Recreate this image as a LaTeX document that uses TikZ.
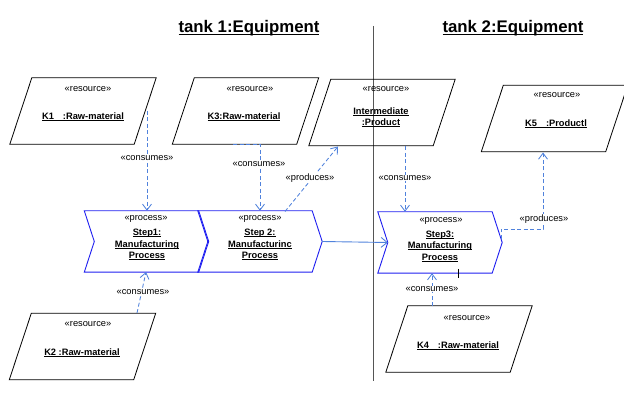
\documentclass[tikz,border=0pt]{standalone}
\usepackage{fontspec}
\setmainfont{Liberation Sans}
\usetikzlibrary{arrows.meta,calc}

\definecolor{procblue}{RGB}{30,30,240}
\definecolor{linkblue}{RGB}{80,130,220}
\definecolor{divgray}{RGB}{85,85,85}

% underlined text with a fixed rule just below the baseline
\newcommand\ulx[1]{\setbox0\hbox{#1}\rlap{\rule[-1.4pt]{\wd0}{0.7pt}}\box0}
\newcommand\ulbig[1]{\setbox0\hbox{#1}\rlap{\rule[-2.6pt]{\wd0}{1.1pt}}\box0}

% parallelogram outline of a resource box (invisible rectangle node #1)
\newcommand\resoutline[1]{%
  \draw[resline] (#1.south west) -- ([xshift=22pt]#1.north west) --
    (#1.north east) -- ([xshift=-22pt]#1.south east) -- cycle;}
% chevron outline of a process box (invisible rectangle node #1)
\newcommand\procoutline[1]{%
  \draw[procline] (#1.north west) -- (#1.north east) -- ([xshift=10pt]#1.east) --
    (#1.south east) -- (#1.south west) -- ([xshift=10pt]#1.west) -- cycle;}

\tikzset{
  smallfont/.style={font=\fontsize{9.3}{11.5}\selectfont},
  resbox/.style={minimum width=146pt, minimum height=66pt, inner sep=0pt},
  procbox/.style={minimum width=114pt, minimum height=61pt, inner sep=0pt},
  resline/.style={draw=black, line width=0.8pt},
  procline/.style={draw=procblue, line width=0.9pt},
  stereo/.style={smallfont, inner sep=0pt},
  objname/.style={font=\fontsize{9.3}{11.5}\selectfont\bfseries, inner sep=0pt, align=center},
  titletext/.style={font=\fontsize{16.8}{20}\selectfont\bfseries, inner sep=0pt},
  dep/.style={draw=linkblue, line width=0.85pt, dash pattern=on 4pt off 2.5pt,
    -{Straight Barb[length=6pt,width=9pt,line width=0.85pt]}},
  flow/.style={draw=linkblue, line width=0.9pt,
    -{Straight Barb[length=6pt,width=10pt,line width=0.9pt]}},
  deplabel/.style={smallfont, fill=white, inner sep=0.8pt},
  divider/.style={draw=divgray, line width=0.9pt},
}

\begin{document}
\begin{tikzpicture}[x=1pt,y=-1pt]
\useasboundingbox (0,0) rectangle (624,398);

% lane divider and lane titles
\coordinate (divtop) at (373,26);
\coordinate (divbot) at (373,381);
\draw[divider] (divtop) -- (divbot);
\node[titletext] (tank1) at (249,28) {\ulbig{tank 1:Equipment}};
\node[titletext] (tank2) at (513,28) {\ulbig{tank 2:Equipment}};

% resources
\node[resbox] (k1) at (83,111) {};
\node[resbox] (k3) at (245.5,111) {};
\node[resbox] (im) at (382,112.5) {};
\node[resbox] (k5) at (554.5,118.5) {};
\node[resbox] (k2) at (82.5,346.5) {};
\node[resbox] (k4) at (459,339) {};
\begin{scope}
  \clip (0,0) rectangle (624,398);
  \foreach \n in {k1,k3,im,k5,k2,k4} {\resoutline{\n}}
\end{scope}

\node[stereo] (k1s) at (88,89) {«resource»};
\node[objname] (k1n) at (83,117) {\ulx{K1\hspace{9pt}:Raw-material}};
\node[stereo] (k3s) at (250,89) {«resource»};
\node[objname] (k3n) at (244,117) {\ulx{K3:Raw-material}};
\node[stereo] (ims) at (386,89) {«resource»};
\node[objname, font=\fontsize{9.3}{11}\selectfont\bfseries] (imn) at (381,117.5)
  {\ulx{Intermediate}\\\ulx{:Product}};
\node[stereo] (k5s) at (557,95) {«resource»};
\node[objname] (k5n) at (556,124) {\ulx{K5\hspace{9pt}:Productl}};
\node[stereo] (k2s) at (88,324) {«resource»};
\node[objname] (k2n) at (82,353) {\ulx{K2 :Raw-material}};
\node[stereo] (k4s) at (467,318) {«resource»};
\node[objname] (k4n) at (458,346) {\ulx{K4\hspace{9pt}:Raw-material}};

% processes
\node[procbox] (s1) at (141.5,241.5) {};
\node[procbox] (s2) at (255,241.5) {};
\node[procbox] (s3) at (435,242.5) {};
\procoutline{s1}
\procoutline{s2}
\procoutline{s3}

\node[stereo] (s1s) at (146,219) {«process»};
\node[objname] (s1n) at (147,244.5)
  {\ulx{Step1:}\\\ulx{Manufacturing}\\\ulx{Process}};
\node[stereo] (s2s) at (260,219) {«process»};
\node[objname] (s2n) at (260,244.5)
  {\ulx{Step 2:}\\\ulx{Manufacturinc}\\\ulx{Process}};
\node[stereo] (s3s) at (441,221) {«process»};
\node[objname] (s3n) at (440,246)
  {\ulx{Step3:}\\\ulx{Manufacturing}\\\ulx{Process}};
\draw[black, line width=0.8pt] (458,269) -- (458,278);

% connector end points
\coordinate (k1out) at (147,111);
\coordinate (k3out) at (233,144.5);
\coordinate (s2out) at (285,211.5);
\coordinate (imin)  at (338,146.5);
\coordinate (imout) at (405,146.5);
\coordinate (s3out) at (501,239);
\coordinate (k5in)  at (543,152.5);
\coordinate (k2out) at (137,313);
\coordinate (s1in)  at (146,272);
\coordinate (k4out) at (432,306);

% consumes / produces dependencies
\draw[dep] (k1out) -- (k1out |- s1.north);
\draw[dep] (k3out) -| ([xshift=5pt]s2.north);
\draw[dep] (s2out) -- (imin);
\draw[dep] (imout) -- (imout |- s3.north);
\draw[dep] (s3out) |- (k5in |- 0,229) -- (k5in);
\draw[dep] (k2out) -- (s1in);
\draw[dep] (k4out) -- (k4out |- s3.south);

% control flow between processes
\draw[flow] ([xshift=10pt]s2.east) -- ([xshift=10pt]s3.west);

% dependency labels
\node[deplabel] (l1) at (147,158) {«consumes»};
\node[deplabel] (l2) at (259,164) {«consumes»};
\node[deplabel] (l3) at (310,178) {«produces»};
\node[deplabel] (l4) at (405,178) {«consumes»};
\node[deplabel] (l5) at (544,219) {«produces»};
\node[deplabel] (l6) at (143,292) {«consumes»};
\node[deplabel] (l7) at (432,289) {«consumes»};
\end{tikzpicture}
\end{document}
